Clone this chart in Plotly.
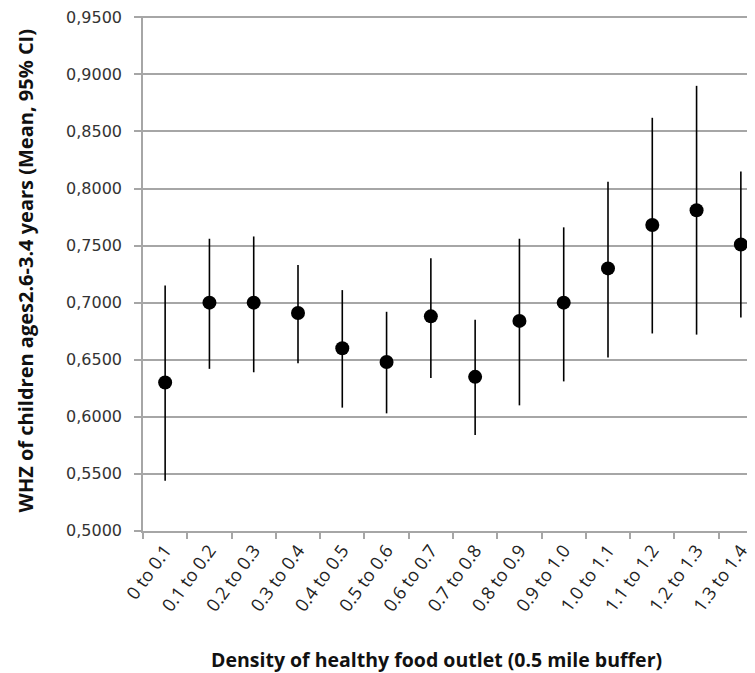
import plotly.graph_objects as go

categories = ["0 to 0.1", "0.1 to 0.2", "0.2 to 0.3", "0.3 to 0.4", "0.4 to 0.5",
              "0.5 to 0.6", "0.6 to 0.7", "0.7 to 0.8", "0.8 to 0.9", "0.9 to 1.0",
              "1.0 to 1.1", "1.1 to 1.2", "1.2 to 1.3", "1.3 to 1.4"]
mean = [0.630, 0.700, 0.700, 0.691, 0.660, 0.648, 0.688, 0.635, 0.684, 0.700,
        0.730, 0.768, 0.781, 0.751]
upper = [0.715, 0.756, 0.758, 0.733, 0.711, 0.692, 0.739, 0.685, 0.756, 0.766,
         0.806, 0.862, 0.890, 0.815]
lower = [0.544, 0.642, 0.639, 0.647, 0.608, 0.603, 0.634, 0.584, 0.610, 0.631,
         0.652, 0.673, 0.672, 0.687]
y_ticks = [0.50, 0.55, 0.60, 0.65, 0.70, 0.75, 0.80, 0.85, 0.90, 0.95]

x_title = "<b>Density of healthy food outlet (0.5 mile buffer)</b>"
y_title = "<b>WHZ of children ages2.6-3.4 years (Mean, 95% CI)</b>"

err_plus = [u - m for u, m in zip(upper, mean)]
err_minus = [m - l for m, l in zip(mean, lower)]

fig = go.Figure()
fig.add_trace(go.Scatter(
    x=categories, y=mean, mode="markers",
    marker=dict(color="black", size=14),
    error_y=dict(type="data", symmetric=False, array=err_plus, arrayminus=err_minus,
                 color="black", thickness=1.6, width=0),
    showlegend=False,
))

grid = "#a6a6a6"
fig.update_layout(
    width=755, height=673,
    margin=dict(l=135, r=0, t=8, b=150),
    paper_bgcolor="white", plot_bgcolor="white",
    separators=",.",
    font=dict(family="DejaVu Sans", color="#222222"),
)
fig.update_xaxes(
    type="category", range=[-0.5, 13.5],
    tickson="boundaries", ticks="outside", ticklen=6, tickcolor=grid, tickwidth=1.5,
    tickangle=-54, tickfont=dict(family="Open Sans", size=18, color="#222222"),
    showline=True, linecolor=grid, linewidth=1.5, showgrid=False,
    automargin=False,
)
fig.update_yaxes(
    range=[0.4999, 0.9512], tickvals=y_ticks, tickformat=".4f",
    ticks="outside", ticklen=7, tickcolor=grid, tickwidth=1.5, ticklabelstandoff=9,
    ticklabeloverflow="allow",
    tickfont=dict(family="DejaVu Sans", size=16, color="#333333"),
    showline=True, linecolor=grid, linewidth=1.5,
    showgrid=True, gridcolor=grid, gridwidth=1.5, zeroline=False,
    automargin=False,
)
fig.add_annotation(text=x_title, xref="paper", yref="paper", x=0.4726, y=-0.249,
                   xanchor="center", yanchor="middle", showarrow=False,
                   font=dict(family="Open Sans", size=19.5, color="#111111"))
fig.add_annotation(text=y_title, xref="paper", yref="paper", x=-0.1903, y=0.504,
                   xanchor="center", yanchor="middle", showarrow=False, textangle=-90,
                   font=dict(family="Open Sans", size=20, color="#111111"))

fig.write_html("out.html")
